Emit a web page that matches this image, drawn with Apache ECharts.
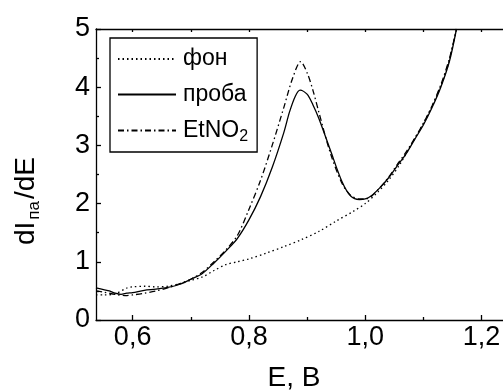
<!DOCTYPE html>
<html>
<head>
<meta charset="utf-8">
<script src="https://cdn.jsdelivr.net/npm/echarts@6/dist/echarts.min.js"></script>
<style>
html,body{margin:0;padding:0;background:#fff;}
#chart{width:503px;height:391px;}
</style>
</head>
<body>
<div id="chart"></div>
<script>
// x-axis range and tick labels
const X_MIN = 0.537;
const X_MAX = 1.237;
const xMajorTicks = [0.6, 0.8, 1.0, 1.2];
const xMinorTicks = [0.7, 0.9, 1.1];
const xTopTicks = [0.6, 0.7, 0.8, 0.9, 1.0, 1.1, 1.2];

// фон (background, dotted)
const E_fon = [0.537,0.55,0.57,0.59,0.60,0.62,0.64,0.66,0.68,0.70,0.72,0.74,0.76,0.78,0.80,0.83,0.86,0.89,0.92,0.95,0.98,1.00,1.02,1.04,1.06,1.08,1.10,1.12,1.14,1.157];
const v_fon = [0.43,0.43,0.45,0.55,0.57,0.58,0.57,0.58,0.62,0.68,0.74,0.85,0.95,1.00,1.05,1.15,1.26,1.38,1.52,1.70,1.87,2.00,2.18,2.40,2.68,3.03,3.38,3.78,4.30,5.00];

// проба (sample, solid)
const E_proba = [0.537,0.55,0.56,0.57,0.58,0.59,0.60,0.62,0.64,0.66,0.68,0.70,0.72,0.74,0.76,0.78,0.80,0.82,0.84,0.86,0.87,0.88,0.888,0.90,0.91,0.92,0.94,0.96,0.975,0.99,1.00,1.01,1.025,1.04,1.055,1.07,1.085,1.10,1.115,1.13,1.145,1.157];
const v_proba = [0.55,0.52,0.50,0.46,0.44,0.46,0.47,0.51,0.53,0.56,0.61,0.70,0.80,0.98,1.18,1.40,1.72,2.12,2.62,3.22,3.58,3.85,3.95,3.88,3.70,3.47,2.92,2.38,2.13,2.07,2.08,2.13,2.27,2.44,2.65,2.85,3.10,3.35,3.65,4.00,4.45,5.00];

// EtNO2 (dash-dot)
const E_etno2 = [0.537,0.55,0.57,0.59,0.60,0.62,0.64,0.66,0.68,0.70,0.72,0.74,0.76,0.78,0.80,0.82,0.84,0.86,0.875,0.889,0.90,0.91,0.92,0.94,0.96,0.975,0.99,1.00,1.01,1.025,1.04,1.055,1.07,1.085,1.10,1.115,1.13,1.145,1.157];
const v_etno2 = [0.50,0.48,0.44,0.42,0.43,0.46,0.50,0.55,0.62,0.70,0.82,1.00,1.20,1.45,1.90,2.40,3.00,3.65,4.15,4.44,4.25,3.95,3.58,2.87,2.35,2.14,2.08,2.08,2.12,2.27,2.45,2.67,2.88,3.12,3.38,3.68,4.04,4.50,5.00];

const seriesNames = ['фон', 'проба', 'EtNO2'];

const FONT = "'Liberation Sans', Arial, sans-serif";
const axisLineStyle = {color: '#000', width: 1.3};

function pairs(xs, ys) { return xs.map((x, i) => [x, ys[i]]); }

const chart = echarts.init(document.getElementById('chart'), null, {renderer: 'canvas'});

const lineBase = {type: 'line', showSymbol: false, symbol: 'none', smooth: 0.3, xAxisIndex: 0, yAxisIndex: 0, clip: true,
  itemStyle: {color: '#000'}};

chart.setOption({
  animation: false,
  backgroundColor: '#fff',
  grid: {left: 96, right: 0, top: 29, bottom: 71, containLabel: false, outerBoundsMode: 'none'},
  xAxis: [
    {
      type: 'value', position: 'bottom', min: X_MIN, max: X_MAX,
      axisLine: {show: true, onZero: false, lineStyle: axisLineStyle},
      axisTick: {show: true, inside: true, length: 5, customValues: xMajorTicks, lineStyle: axisLineStyle},
      axisLabel: {show: true, customValues: xMajorTicks, margin: 4, color: '#000', fontSize: 27, fontFamily: FONT,
        formatter: v => v.toFixed(1).replace('.', ',')},
      splitLine: {show: false}
    },
    {
      type: 'value', position: 'bottom', offset: 0, min: X_MIN, max: X_MAX,
      axisLine: {show: false, onZero: false},
      axisTick: {show: true, inside: true, length: 3, customValues: xMinorTicks, lineStyle: axisLineStyle},
      axisLabel: {show: false},
      splitLine: {show: false}
    },
    {
      type: 'value', position: 'top', min: X_MIN, max: X_MAX,
      axisLine: {show: true, onZero: false, lineStyle: axisLineStyle},
      axisTick: {show: true, inside: true, length: 3, customValues: xTopTicks, lineStyle: axisLineStyle},
      axisLabel: {show: false},
      splitLine: {show: false}
    }
  ],
  yAxis: {
    type: 'value', min: 0, max: 5, interval: 1,
    axisLine: {show: true, lineStyle: axisLineStyle},
    axisTick: {show: true, inside: true, length: 5, lineStyle: axisLineStyle},
    minorTick: {show: true, splitNumber: 2, length: 3, lineStyle: axisLineStyle},
    axisLabel: {margin: 6, color: '#000', fontSize: 27, fontFamily: FONT},
    splitLine: {show: false},
    minorSplitLine: {show: false}
  },
  legend: {
    orient: 'vertical', left: 110, top: 38,
    data: seriesNames,
    padding: [7, 9, 7, 7],
    itemGap: 7.5, itemWidth: 58, itemHeight: 14,
    borderColor: '#000', borderWidth: 1.3, backgroundColor: '#fff',
    itemStyle: {opacity: 0, borderWidth: 0},
    formatter: name => name === 'EtNO2' ? '{a|EtNO}{s|2}' : '{a|' + name + '}',
    textStyle: {
      color: '#000', fontFamily: FONT, fontSize: 23, lineHeight: 28,
      rich: {
        a: {color: '#000', fontFamily: FONT, fontSize: 23, lineHeight: 28, padding: [0, 0, 0, 2]},
        s: {color: '#000', fontFamily: FONT, fontSize: 16, lineHeight: 16, padding: [13, 0, 0, 0]}
      }
    }
  },
  graphic: [
    {
      type: 'text', x: 294, y: 378,
      style: {text: 'E, B', fill: '#000', font: '28px ' + FONT, textAlign: 'center', textVerticalAlign: 'middle', align: 'center', verticalAlign: 'middle'}
    },
    {
      type: 'text', x: 26, y: 201, rotation: Math.PI / 2,
      style: {
        text: '{a|dI}{s|па}{a|/dE}', fill: '#000',
        textAlign: 'center', textVerticalAlign: 'middle', align: 'center', verticalAlign: 'middle',
        rich: {
          a: {fill: '#000', color: '#000', fontFamily: FONT, fontSize: 28, lineHeight: 32},
          s: {fill: '#000', color: '#000', fontFamily: FONT, fontSize: 17, lineHeight: 17, padding: [16, 2, 0, 2]}
        }
      }
    }
  ],
  series: [
    Object.assign({}, lineBase, {name: seriesNames[0], data: pairs(E_fon, v_fon),
      lineStyle: {color: '#000', width: 1.3, type: [1.5, 3]}}),
    Object.assign({}, lineBase, {name: seriesNames[1], data: pairs(E_proba, v_proba),
      lineStyle: {color: '#000', width: 1.3, type: 'solid'}}),
    Object.assign({}, lineBase, {name: seriesNames[2], data: pairs(E_etno2, v_etno2),
      lineStyle: {color: '#000', width: 1.3, type: [6, 3, 1.5, 3]}})
  ]
});
</script>
</body>
</html>
